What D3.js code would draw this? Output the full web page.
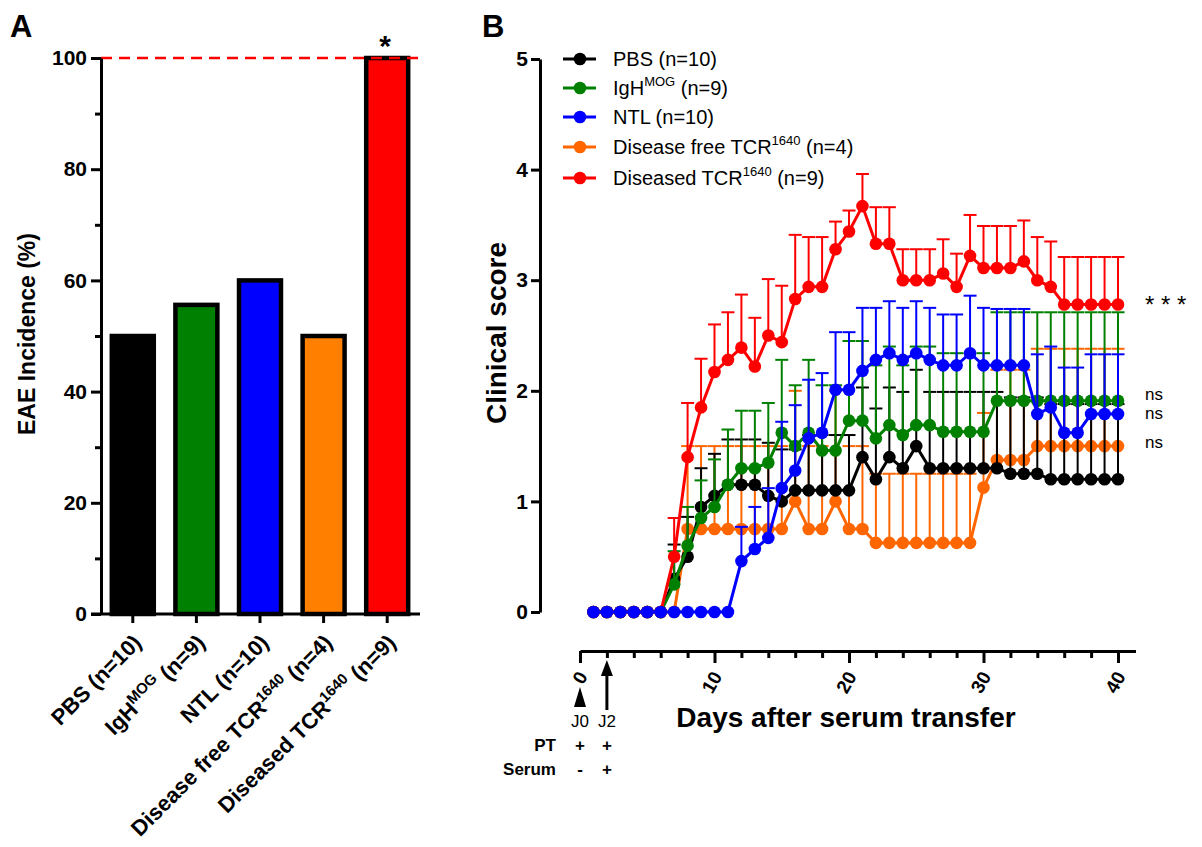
<!DOCTYPE html>
<html>
<head>
<meta charset="utf-8">
<script src="https://cdn.jsdelivr.net/npm/d3@7"></script>
<style>
  body { margin: 0; background: #fff; }
  text { font-family: "Liberation Sans", Arial, sans-serif; fill: #000; }
</style>
</head>
<body>
<script>
// ---------- Panel A : EAE incidence ----------
var groups = ["PBS", "IgH", "NTL", "DF", "Diseased"];
var incidence = [50, 55.6, 60, 50, 100];
var barColors = ["#000000", "#008000", "#0000FF", "#FF8000", "#FF0000"];
// label pieces: [text, isSuperscript]
var groupLabels = [
  [["PBS (n=10)", 0]],
  [["IgH", 0], ["MOG", 1], [" (n=9)", 0]],
  [["NTL (n=10)", 0]],
  [["Disease free TCR", 0], ["1640", 1], ["  (n=4)", 0]],
  [["Diseased TCR", 0], ["1640", 1], ["  (n=9)", 0]]
];
var incTicks = [0, 20, 40, 60, 80, 100];
var incMinor = [10, 30, 50, 70, 90];

// ---------- Panel B : clinical score ----------
var days = d3.range(1, 41);
var pbsMean = [0,0,0,0,0,0,0.3,0.5,0.95,1.05,1.15,1.15,1.15,1.05,1.0,1.1,1.1,1.1,1.1,1.1,
               1.4,1.2,1.4,1.3,1.5,1.3,1.3,1.3,1.3,1.3,1.3,1.25,1.25,1.25,1.2,1.2,1.2,1.2,1.2,1.2];
var pbsSem  = [0,0,0,0,0,0,0.31,0.36,0.35,0.38,0.41,0.41,0.41,0.48,0.47,0.37,0.5,0.5,0.5,0.5,
               0.63,0.64,0.63,0.69,0.69,0.69,0.69,0.69,0.69,0.69,0.69,0.69,0.69,0.69,0.68,0.68,0.68,0.68,0.68,0.68];
var igMean  = [0,0,0,0,0,0,0.25,0.6,0.85,0.95,1.15,1.3,1.3,1.35,1.62,1.5,1.62,1.46,1.46,1.73,
               1.73,1.57,1.69,1.6,1.69,1.69,1.63,1.63,1.63,1.63,1.91,1.91,1.91,1.91,1.91,1.91,1.91,1.91,1.91,1.91];
var igSem   = [0,0,0,0,0,0,0.3,0.35,0.34,0.43,0.5,0.52,0.52,0.54,0.66,0.55,0.66,0.59,0.59,0.72,
               0.72,0.66,0.71,0.63,0.71,0.71,0.71,0.71,0.71,0.71,0.8,0.8,0.8,0.8,0.8,0.8,0.8,0.8,0.8,0.8];
var ntlMean = [0,0,0,0,0,0,0,0,0,0,0,0.46,0.57,0.67,1.12,1.28,1.57,1.62,2.01,2.01,
               2.18,2.28,2.34,2.28,2.34,2.28,2.23,2.23,2.34,2.23,2.23,2.23,2.23,1.79,1.85,1.62,1.62,1.79,1.79,1.79];
var ntlSem  = [0,0,0,0,0,0,0,0,0,0,0,0.31,0.38,0.45,0.6,0.59,0.53,0.54,0.52,0.52,
               0.57,0.47,0.47,0.47,0.47,0.47,0.46,0.46,0.52,0.52,0.51,0.51,0.51,0.54,0.55,0.59,0.59,0.54,0.54,0.54];
var dfMean  = [0,0,0,0,0,0,0,0.75,0.75,0.75,0.75,0.75,0.75,0.75,0.75,1.0,0.75,0.75,1.0,0.75,
               0.75,0.625,0.625,0.625,0.625,0.625,0.625,0.625,0.625,1.125,1.375,1.375,1.375,1.5,1.5,1.5,1.5,1.5,1.5,1.5];
var dfSem   = [0,0,0,0,0,0,0,0.75,0.75,0.75,0.75,0.75,0.75,0.75,0.75,1.0,0.75,0.75,1.0,0.75,
               0.75,0.625,0.625,0.625,0.625,0.625,0.625,0.625,0.625,0.675,0.815,0.815,0.815,0.88,0.88,0.88,0.88,0.88,0.88,0.88];
var disMean = [0,0,0,0,0,0,0.5,1.4,1.85,2.17,2.28,2.39,2.22,2.5,2.44,2.83,2.94,2.94,3.28,3.44,
               3.67,3.33,3.33,3.0,3.0,3.0,3.06,2.94,3.22,3.11,3.11,3.11,3.17,3.0,2.94,2.78,2.78,2.78,2.78,2.78];
var disSem  = [0,0,0,0,0,0,0.35,0.49,0.44,0.43,0.43,0.48,0.44,0.51,0.51,0.58,0.45,0.45,0.25,0.19,
               0.29,0.33,0.33,0.28,0.28,0.28,0.31,0.3,0.37,0.38,0.38,0.38,0.37,0.39,0.41,0.43,0.43,0.43,0.43,0.43];

var seriesNames = [
  [["PBS (n=10)", 0]],
  [["IgH", 0], ["MOG", 1], [" (n=9)", 0]],
  [["NTL (n=10)", 0]],
  [["Disease free TCR", 0], ["1640", 1], [" (n=4)", 0]],
  [["Diseased TCR", 0], ["1640", 1], [" (n=9)", 0]]
];
var lineColors = ["#000000", "#008000", "#0000FF", "#FF6600", "#FF0000"];
var seriesMeans = [pbsMean, igMean, ntlMean, dfMean, disMean];
var seriesSems = [pbsSem, igSem, ntlSem, dfSem, disSem];
var drawOrder = [3, 0, 1, 4, 2];
var sigLabels = ["* * *", "ns", "ns", "ns"];
var scoreTicks = [0, 1, 2, 3, 4, 5];
var dayTicks = [0, 10, 20, 30, 40];

var svg = d3.select("body").append("svg")
  .attr("width", 1202)
  .attr("height", 847);

// write text pieces, superscripts raised and smaller
function writeParts(sel, parts, supSize, supShift) {
  parts.forEach(function (p, k) {
    var dy = 0;
    if (p[1]) dy = -supShift;
    else if (k > 0 && parts[k - 1][1]) dy = supShift;
    var ts = sel.append("tspan").attr("dy", dy).text(p[0]);
    if (p[1]) ts.style("font-size", supSize + "px");
  });
}

/*************** Panel A ***************/
var xA = d3.scaleBand().domain(groups).range([101, 419]).paddingInner(0.34).paddingOuter(0.17);
var yA = d3.scaleLinear().domain([0, 100]).range([614, 58]);

var gA = svg.append("g");

gA.selectAll("rect.bar")
  .data(groups)
  .enter().append("rect")
  .attr("class", "bar")
  .attr("x", function (d) { return xA(d); })
  .attr("width", xA.bandwidth())
  .attr("y", function (d, i) { return yA(incidence[i]); })
  .attr("height", function (d, i) { return yA(0) - yA(incidence[i]); })
  .attr("fill", function (d, i) { return barColors[i]; })
  .attr("stroke", "#000")
  .attr("stroke-width", 4.5);

// dashed 100% line
gA.append("line")
  .attr("x1", 101).attr("x2", 420)
  .attr("y1", yA(100)).attr("y2", yA(100))
  .attr("stroke", "#FF0000").attr("stroke-width", 2.5)
  .attr("stroke-dasharray", "11,7");

var yAxisA = gA.append("g").attr("transform", "translate(101,0)")
  .call(d3.axisLeft(yA).tickValues(incTicks).tickSize(10).tickSizeOuter(0).tickPadding(3));
gA.append("g").attr("transform", "translate(101,0)")
  .call(d3.axisLeft(yA).tickValues(incMinor).tickSize(6).tickSizeOuter(0).tickFormat(""))
  .select(".domain").remove();
var xAxisA = gA.append("g").attr("transform", "translate(0,614)")
  .call(d3.axisBottom(xA).tickSize(9).tickSizeOuter(0).tickFormat(""));
xAxisA.select(".domain").attr("d", "M91,0H420");

gA.selectAll(".domain, .tick line").attr("stroke", "#000").attr("stroke-width", 3);
yAxisA.selectAll(".tick text")
  .style("font-size", "21px").style("font-weight", "bold").attr("dx", -1);

// rotated group labels
groups.forEach(function (g, i) {
  var t = gA.append("text")
    .attr("transform", "translate(" + (xA(g) + xA.bandwidth() / 2 + 10) + ",644) rotate(-45)")
    .attr("text-anchor", "end")
    .style("font-size", "22px").style("font-weight", "bold");
  writeParts(t, groupLabels[i], 15, 9);
});

gA.append("text")
  .attr("transform", "translate(35,334) rotate(-90)")
  .attr("text-anchor", "middle")
  .style("font-size", "23px").style("font-weight", "bold")
  .text("EAE Incidence  (%)");

gA.append("text").attr("x", 385).attr("y", 56).attr("text-anchor", "middle")
  .style("font-size", "30px").style("font-weight", "bold").text("*");

svg.append("text").attr("x", 10).attr("y", 37)
  .style("font-size", "31px").style("font-weight", "bold").text("A");

/*************** Panel B ***************/
var xB = d3.scaleLinear().domain([0, 41.3]).range([580, 580 + 41.3 * 13.45]);
var yB = d3.scaleLinear().domain([0, 5]).range([612, 59]);

var gB = svg.append("g");

var yAxisB = gB.append("g").attr("transform", "translate(540,0)")
  .call(d3.axisLeft(yB).tickValues(scoreTicks).tickSize(9).tickSizeOuter(0).tickPadding(3).tickFormat(d3.format("d")));
yAxisB.selectAll(".tick text").style("font-size", "21px").style("font-weight", "bold");

var xAxisB = gB.append("g").attr("transform", "translate(0,651)")
  .call(d3.axisBottom(xB).tickValues(dayTicks).tickSize(12).tickSizeOuter(0).tickPadding(4));
var minorDays = d3.range(2, 41, 2).filter(function (d) { return d % 10 !== 0; });
gB.append("g").attr("transform", "translate(0,651)")
  .call(d3.axisBottom(xB).tickValues(minorDays).tickSize(7).tickSizeOuter(0).tickFormat(""))
  .select(".domain").remove();
gB.selectAll(".domain, .tick line").attr("stroke", "#000").attr("stroke-width", 3);
xAxisB.selectAll(".tick text")
  .attr("text-anchor", "end")
  .attr("transform", "translate(2,22) rotate(-60)")
  .attr("y", 0).attr("dy", "0.35em")
  .style("font-size", "19px").style("font-weight", "bold");

gB.append("text")
  .attr("transform", "translate(506,333) rotate(-90)")
  .attr("text-anchor", "middle")
  .style("font-size", "28px").style("font-weight", "bold")
  .text("Clinical score");

gB.append("text").attr("x", 846).attr("y", 727).attr("text-anchor", "middle")
  .style("font-size", "28px").style("font-weight", "bold")
  .text("Days after serum transfer");

// series
var line = d3.line()
  .x(function (d) { return xB(d.day); })
  .y(function (d) { return yB(d.v); });

drawOrder.forEach(function (s) {
  var pts = days.map(function (d, i) { return { day: d, v: seriesMeans[s][i], e: seriesSems[s][i] }; });
  var g = gB.append("g");
  var eb = pts.filter(function (p) { return p.e > 0; });
  g.selectAll("line.err").data(eb).enter().append("line")
    .attr("x1", function (p) { return xB(p.day); }).attr("x2", function (p) { return xB(p.day); })
    .attr("y1", function (p) { return yB(p.v); }).attr("y2", function (p) { return yB(p.v + p.e); })
    .attr("stroke", lineColors[s]).attr("stroke-width", 2);
  g.selectAll("line.cap").data(eb).enter().append("line")
    .attr("x1", function (p) { return xB(p.day) - 6.5; }).attr("x2", function (p) { return xB(p.day) + 6.5; })
    .attr("y1", function (p) { return yB(p.v + p.e); }).attr("y2", function (p) { return yB(p.v + p.e); })
    .attr("stroke", lineColors[s]).attr("stroke-width", 2);
  g.append("path").datum(pts).attr("d", line)
    .attr("fill", "none").attr("stroke", lineColors[s]).attr("stroke-width", 3);
  g.selectAll("circle").data(pts).enter().append("circle")
    .attr("cx", function (p) { return xB(p.day); })
    .attr("cy", function (p) { return yB(p.v); })
    .attr("r", 6.3).attr("fill", lineColors[s]);
});

// legend
seriesNames.forEach(function (parts, i) {
  var ly = [59, 88, 117, 147, 178][i];
  gB.append("line").attr("x1", 563).attr("x2", 596).attr("y1", ly).attr("y2", ly)
    .attr("stroke", lineColors[i]).attr("stroke-width", 3);
  gB.append("circle").attr("cx", 580).attr("cy", ly).attr("r", 6.3).attr("fill", lineColors[i]);
  var t = gB.append("text").attr("x", 613).attr("y", ly + 7)
    .style("font-size", "20px");
  writeParts(t, parts, 13, 9);
});

// significance labels
sigLabels.forEach(function (s, i) {
  var yy = [303, 395, 414, 443][i];
  gB.append("text").attr("x", 1145).attr("y", yy + (s === "ns" ? 5 : 10))
    .style("font-size", s === "ns" ? "17px" : "24px")
    .text(s);
});

// J0 / J2 markers
gB.append("path")
  .attr("d", "M" + xB(0) + ",687 L" + (xB(0) - 6) + ",707 L" + (xB(0) + 6) + ",707 Z")
  .attr("fill", "#000");
gB.append("line").attr("x1", xB(2)).attr("x2", xB(2)).attr("y1", 672).attr("y2", 710)
  .attr("stroke", "#000").attr("stroke-width", 3);
gB.append("path")
  .attr("d", "M" + xB(2) + ",660 L" + (xB(2) - 6) + ",676 L" + (xB(2) + 6) + ",676 Z")
  .attr("fill", "#000");
[["J0", 0], ["J2", 2]].forEach(function (j) {
  gB.append("text").attr("x", xB(j[1])).attr("y", 727).attr("text-anchor", "middle")
    .style("font-size", "17px").text(j[0]);
});

var protocolRows = ["PT", "Serum"];
var protocolMarks = [["+", "+"], ["-", "+"]];
protocolRows.forEach(function (r, i) {
  var yy = [751, 775][i];
  gB.append("text").attr("x", 556).attr("y", yy).attr("text-anchor", "end")
    .style("font-size", "17px").style("font-weight", "bold").text(r);
  protocolMarks[i].forEach(function (m, k) {
    gB.append("text").attr("x", xB(k * 2)).attr("y", yy).attr("text-anchor", "middle")
      .style("font-size", "17px").style("font-weight", "bold").text(m);
  });
});

svg.append("text").attr("x", 482).attr("y", 37)
  .style("font-size", "31px").style("font-weight", "bold").text("B");
</script>
</body>
</html>
